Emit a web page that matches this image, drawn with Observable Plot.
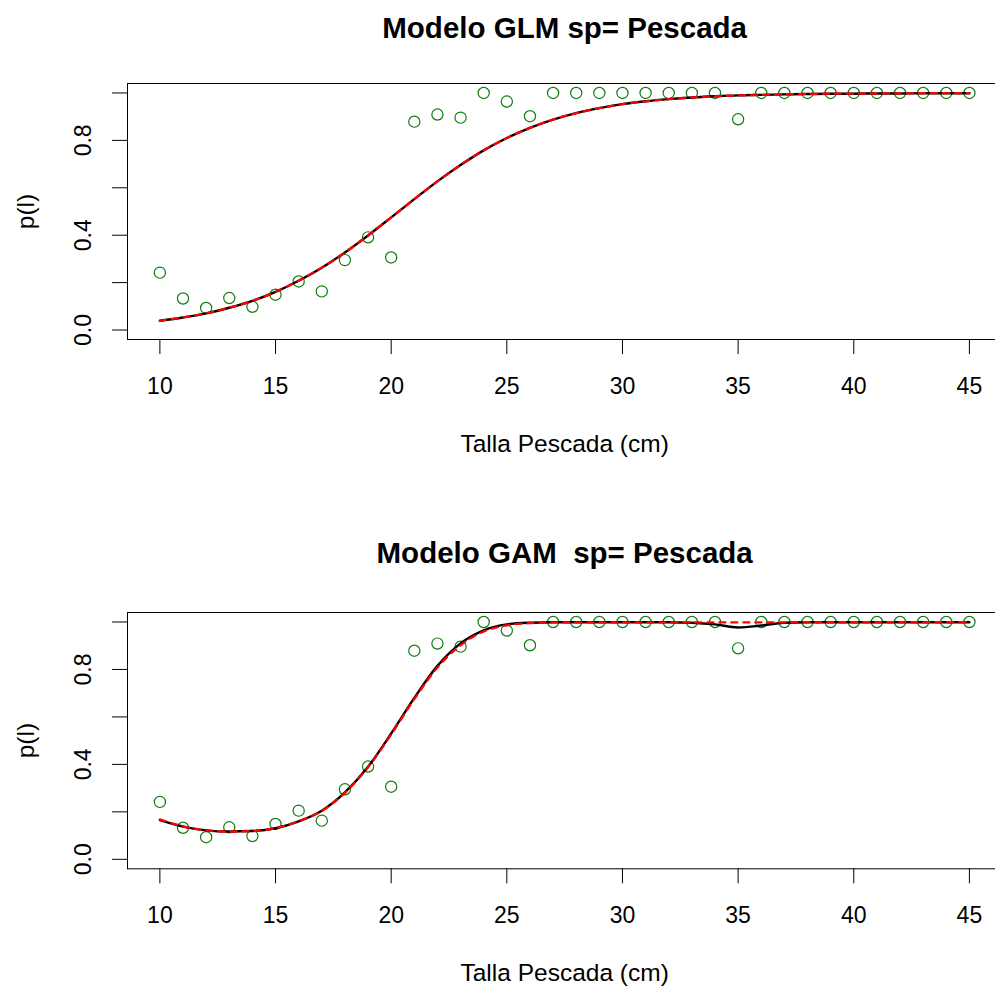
<!DOCTYPE html>
<html><head><meta charset="utf-8">
<script src="https://cdn.jsdelivr.net/npm/d3@7"></script>
<script src="https://cdn.jsdelivr.net/npm/@observablehq/plot@0.6"></script>
<style>
body{margin:0;background:#fff;overflow:hidden}
#chart{width:995px;overflow:hidden}
#chart svg{display:block}
</style>
</head><body><div id="chart"></div>
<script>
// Talla (cm)
const tallas = [10,11,12,13,14,15,16,17,18,19,20,21,22,23,24,25,26,27,28,29,30,31,32,33,34,35,36,37,38,39,40,41,42,43,44,45];
// Observed proportion mature
const propObs = [0.242,0.133,0.093,0.135,0.098,0.149,0.205,0.163,0.295,0.391,0.306,0.879,0.909,0.896,1.0,0.964,0.902,1.0,1.0,1.0,1.0,1.0,1.0,1.0,1.0,0.889,1.0,1.0,1.0,1.0,1.0,1.0,1.0,1.0,1.0,1.0];
// GLM fit (black solid) and its red dashed companion
const glmFit = [0.039,0.053,0.070,0.094,0.123,0.161,0.208,0.263,0.327,0.399,0.475,0.552,0.627,0.696,0.758,0.810,0.853,0.888,0.915,0.936,0.953,0.965,0.974,0.981,0.986,0.990,0.992,0.994,0.996,0.997,0.997,0.998,0.998,0.999,0.999,0.999];
const glmFitRed = [0.039,0.053,0.070,0.094,0.123,0.161,0.208,0.263,0.327,0.399,0.475,0.552,0.627,0.696,0.758,0.810,0.853,0.888,0.915,0.936,0.953,0.965,0.974,0.981,0.986,0.990,0.992,0.994,0.996,0.997,0.997,0.998,0.998,0.999,0.999,0.999];
// GAM fit (black solid) and red dashed
const gamFit = [0.165,0.138,0.122,0.117,0.119,0.131,0.160,0.205,0.282,0.390,0.530,0.680,0.815,0.910,0.965,0.990,0.997,0.999,0.999,0.999,0.999,0.999,0.999,0.997,0.990,0.977,0.985,0.997,0.999,0.999,0.999,0.999,0.999,0.999,0.999,0.999];
const gamFitRed = [0.168,0.139,0.122,0.117,0.119,0.131,0.160,0.204,0.280,0.388,0.526,0.675,0.808,0.902,0.960,0.986,0.995,0.998,0.998,0.998,0.998,0.998,0.998,0.998,0.998,0.998,0.998,0.998,0.999,0.999,0.999,0.999,0.999,0.999,0.999,0.999];

const titles = ["Modelo GLM sp= Pescada", "Modelo GAM  sp= Pescada"];
const xLabel = "Talla Pescada (cm)";
const yLabel = "p(l)";
const xTicks = [10,15,20,25,30,35,40,45];
const yTicks = [0,0.2,0.4,0.6,0.8,1.0];
const yTickLabels = [0,0.4,0.8];

const FONT = "'Liberation Sans', Arial, Helvetica, sans-serif";
const GREEN = "#107a10";

function panel({title, black, red, mt, mb, titleDy}) {
  const pts = tallas.map((t, i) => ({x: t, y: propObs[i]}));
  const lb = tallas.map((t, i) => ({x: t, y: black[i]}));
  const lr = tallas.map((t, i) => ({x: t, y: red[i]}));
  return Plot.plot({
    width: 995, height: 495,
    marginLeft: 127, marginRight: -6.3, marginTop: mt, marginBottom: mb,
    x: {domain: [8.6, 46.4]},
    y: {domain: [-0.04, 1.04]},
    style: {fontFamily: FONT, background: "white", color: "black", overflow: "hidden"},
    marks: [
      Plot.frame({stroke: "black", strokeWidth: 1}),
      Plot.axisX({ticks: xTicks, tickSize: 15, tickFormat: () => "", label: null}),
      Plot.axisY({ticks: yTicks, tickSize: 15, tickFormat: () => "", label: null}),
      Plot.text(xTicks, {x: d => d, text: d => String(d), frameAnchor: "bottom", lineAnchor: "bottom", dy: 54.3, fontSize: 23, fill: "black"}),
      Plot.text(yTickLabels, {y: d => d, text: d => d.toFixed(1), frameAnchor: "left", rotate: -90, textAnchor: "middle", lineAnchor: "bottom", dx: -37, fontSize: 23, fill: "black"}),
      Plot.text([title], {text: d => d, frameAnchor: "top", lineAnchor: "bottom", dy: titleDy, fontSize: 29.5, fontWeight: "bold", fill: "black"}),
      Plot.text([xLabel], {text: d => d, frameAnchor: "bottom", lineAnchor: "bottom", dy: 112, fontSize: 24.5, fill: "black"}),
      Plot.text([yLabel], {text: d => d, frameAnchor: "left", rotate: -90, textAnchor: "middle", lineAnchor: "bottom", dx: -94, fontSize: 24.5, fill: "black"}),
      Plot.dot(pts, {x: "x", y: "y", r: 5.6, stroke: GREEN, strokeWidth: 1.2, fill: "none"}),
      Plot.line(lb, {x: "x", y: "y", stroke: "black", strokeWidth: 2.4, curve: "monotone-x"}),
      Plot.line(lr, {x: "x", y: "y", stroke: "#ff0000", strokeWidth: 2.3, strokeDasharray: "6,6", curve: "monotone-x"})
    ]
  });
}

const chart = document.getElementById("chart");
chart.append(panel({title: titles[0], black: glmFit, red: glmFitRed, mt: 83, mb: 156, titleDy: -45.3}));
chart.append(panel({title: titles[1], black: gamFit, red: gamFitRed, mt: 117, mb: 121.7, titleDy: -49.3}));
</script>
</body></html>
